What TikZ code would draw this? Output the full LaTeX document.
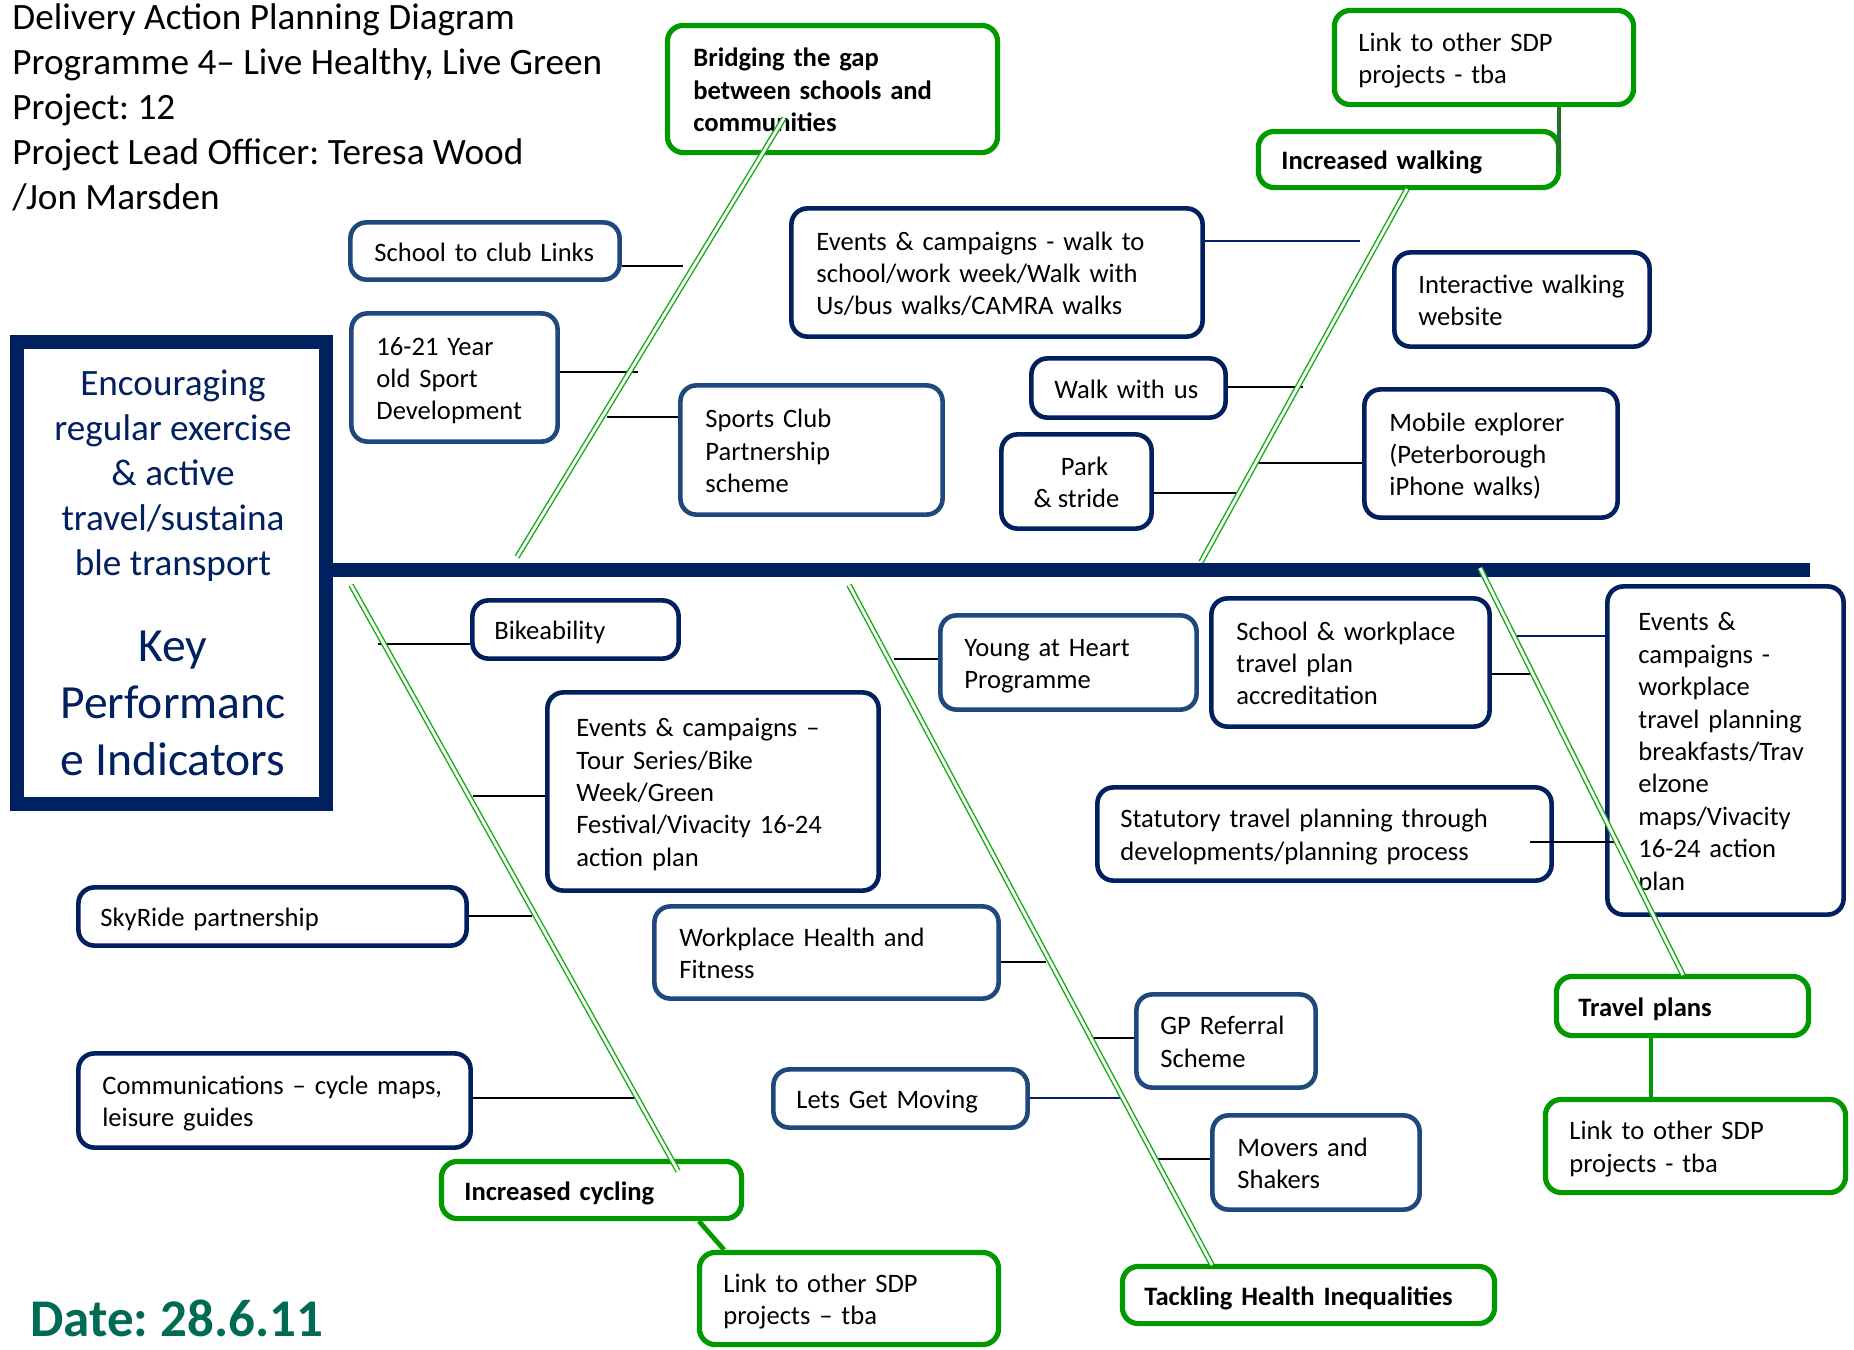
\documentclass[tikz,border=0pt]{standalone}
\usepackage{fontspec}
\setmainfont{Carlito}
\definecolor{cNavy}{RGB}{0,32,96}
\definecolor{cBlue}{RGB}{31,73,125}
\definecolor{cGreen}{RGB}{0,153,0}
\definecolor{cBone}{RGB}{20,170,20}
\definecolor{cLink}{RGB}{40,110,40}
\definecolor{cDate}{RGB}{0,107,84}
\newcommand\mybox[8]{%
  \pgfmathsetmacro\bw{(#5-#3)/2-1.4}%
  \pgfmathsetmacro\bh{(#6-#4)/2-1.4}%
  \pgfmathsetmacro\tw{\bw-2*#7}%
  \node[#1, minimum width=\bw pt, minimum height=\bh pt, inner xsep=#7pt, text width=\tw pt] (#2) at ({(#3+#5)/2},{(#4+#6)/2}) {\raisebox{-1.8pt}[\height][\depth]{\begin{tabular}{@{}l@{}}#8\end{tabular}}};}
\begin{document}
\frenchspacing
\begin{tikzpicture}[x=0.5pt,y=-0.5pt,
  boxbase/.style={rounded corners=8pt, fill=white, align=left, inner ysep=0pt, font=\fontsize{13.3}{16.2}\selectfont},
  nbox/.style={boxbase, draw=cNavy, line width=2.3pt},
  lbox/.style={boxbase, draw=cBlue, line width=2.3pt},
  gbox/.style={boxbase, draw=cGreen, line width=2.6pt},
  gtbox/.style={gbox, font=\fontsize{13.3}{16.2}\selectfont\bfseries},
  bone/.style={draw=cBone, line width=0.7pt, double=white, double distance=1.4pt},
  sub/.style={draw=black, line width=1pt},
  nsub/.style={draw=cNavy, line width=1pt},
  lnk/.style={draw=cGreen, line width=2.4pt},
  ttl/.style={anchor=base west, inner sep=0pt, font=\fontsize{18.6}{22.5}\selectfont},
  spine/.style={draw=cNavy, line width=7pt}]
\useasboundingbox (0,0) rectangle (1854,1350);
\fill[white] (0,0) rectangle (1854,1350);

% title
\node[ttl] (t1) at (12,29) {Delivery Action Planning Diagram};
\node[ttl] (t2) at (12,74) {Programme 4– Live Healthy, Live Green};
\node[ttl] (t3) at (12,119) {Project: 12};
\node[ttl] (t4) at (12,164) {Project Lead Officer: Teresa Wood};
\node[ttl] (t5) at (12,209) {/Jon Marsden};
\node[anchor=base west, inner sep=0pt, text=cDate, font=\fontsize{26.5}{30}\selectfont\bfseries] (date) at (30,1336) {Date: 28.6.11};

% KPI frame
\node[draw=cNavy, line width=7pt, fill=white, minimum width=154.5pt, minimum height=231pt, inner sep=0pt] (kpi) at (171.5,573) {};
\node[text=cNavy, align=center, inner sep=0pt, font=\fontsize{18.6}{22.5}\selectfont] (kpiA) at (173,476) {Encouraging\\regular exercise\\\& active\\travel/sustaina\\ble transport};
\node[text=cNavy, align=center, inner sep=0pt, font=\fontsize{23.8}{28.5}\selectfont] (kpiB) at (173,703) {Key\\Performanc\\e Indicators};

% spine
\coordinate (spE) at (1810,570);
\draw[spine] (kpi.east |- spE) -- (spE);

% boxes
\mybox{gtbox}{bridge}{666}{24}{999}{154}{13}{Bridging the gap\\between schools and\\communities}
\mybox{gbox}{linkT}{1333}{9}{1635}{106}{12}{Link to other SDP\\projects - tba}
\mybox{gtbox}{walk}{1257}{130}{1560}{189}{11.5}{Increased walking}
\mybox{lbox}{sch}{349}{221}{621}{281}{12}{School to club Links}
\mybox{nbox}{evw}{790}{207}{1204}{338}{12.5}{Events \& campaigns - walk to\\school/work week/Walk with\\Us/bus walks/CAMRA walks}
\mybox{nbox}{iw}{1393}{251}{1651}{348}{12}{Interactive walking\\website}
\mybox{lbox}{y16}{350}{312}{559}{443}{12.5}{16-21 Year\\old Sport\\Development}
\mybox{lbox}{scp}{679}{384}{944}{516}{12.5}{Sports Club\\Partnership\\scheme}
\mybox{nbox}{wwu}{1030}{357}{1227}{419}{11.5}{Walk with us}
\node[nbox, minimum width=75.1pt, minimum height=47.1pt, align=center, inner sep=0pt] (park) at (1076.5,481.5) {\raisebox{-1.8pt}[\height][\depth]{\begin{tabular}{@{}c@{}}\hspace*{8pt}Park\\\& stride\end{tabular}}};
\mybox{nbox}{mob}{1363}{388}{1619}{519}{12.5}{Mobile explorer\\(Peterborough\\iPhone walks)}
\mybox{nbox}{bike}{471}{599}{680}{660}{11}{Bikeability}
\mybox{lbox}{yah}{939}{614}{1198}{711}{12}{Young at Heart\\Programme}
\mybox{nbox}{swp}{1210}{597}{1491}{728}{12.5}{School \& workplace\\travel plan\\accreditation}
\mybox{nbox}{evp}{1606}{585}{1845}{916}{15.5}{Events \&\\campaigns -\\workplace\\travel planning\\breakfasts/Trav\\elzone\\maps/Vivacity\\16-24 action\\plan}
\mybox{nbox}{evt}{546}{691}{880}{892}{14.5}{Events \& campaigns –\\Tour Series/Bike\\Week/Green\\Festival/Vivacity 16-24\\action plan}
\mybox{nbox}{stat}{1096}{786}{1553}{882}{11.5}{Statutory travel planning through\\developments/planning process}
\mybox{nbox}{sky}{77}{886}{468}{947}{11}{SkyRide partnership}
\mybox{lbox}{whf}{653}{905}{1000}{1000}{12.5}{Workplace Health and\\Fitness}
\mybox{lbox}{gp}{1135}{993}{1317}{1089}{12}{GP Referral\\Scheme}
\mybox{gtbox}{tp}{1555}{975}{1810}{1037}{11}{Travel plans}
\mybox{nbox}{com}{77}{1052}{472}{1149}{12}{Communications – cycle maps,\\leisure guides}
\mybox{lbox}{lgm}{772}{1068}{1029}{1129}{11.5}{Lets Get Moving}
\mybox{lbox}{mov}{1211}{1114}{1421}{1211}{12.5}{Movers and\\Shakers}
\mybox{gtbox}{cyc}{440}{1160}{743}{1220}{11.5}{Increased cycling}
\mybox{gbox}{linkR}{1544}{1098}{1847}{1194}{12}{Link to other SDP\\projects - tba}
\mybox{gbox}{linkB}{698}{1251}{1000}{1346}{12}{Link to other SDP\\projects – tba}
\mybox{gtbox}{tack}{1121}{1265}{1496}{1325}{11}{Tackling Health Inequalities}

% sub-bone connectors
\coordinate (c1) at (683,266);  \draw[sub] (sch.east |- c1) -- (c1);
\coordinate (c2) at (638,372);  \draw[sub] (y16.east |- c2) -- (c2);
\coordinate (c3) at (607,417);  \draw[sub] (c3) -- (scp.west |- c3);
\coordinate (c4) at (1360,241); \draw[nsub] (evw.east |- c4) -- (c4);
\coordinate (c5) at (1303,387); \draw[sub] (wwu.east |- c5) -- (c5);
\coordinate (c6) at (1241,493); \draw[sub] (park.east |- c6) -- (c6);
\coordinate (c7) at (1253,463); \draw[sub] (c7) -- (mob.west |- c7);
\coordinate (c8) at (378,644);  \draw[sub] (c8) -- (bike.west |- c8);
\coordinate (c9) at (894,659);  \draw[sub] (c9) -- (yah.west |- c9);
\coordinate (c10) at (1531,674); \draw[sub] (swp.east |- c10) -- (c10);
\coordinate (c11) at (1516,636); \draw[nsub] (c11) -- (evp.west |- c11);
\coordinate (c12) at (473,796);  \draw[sub] (c12) -- (evt.west |- c12);
\coordinate (c13a) at (1530,842); \coordinate (c13) at (1620,842); \draw[sub] (c13a) -- (c13);
\coordinate (c14) at (532,916);  \draw[sub] (sky.east |- c14) -- (c14);
\coordinate (c15) at (1046,962); \draw[sub] (whf.east |- c15) -- (c15);
\coordinate (c16) at (1089,1038); \draw[sub] (c16) -- (gp.west |- c16);
\coordinate (c17) at (638,1098); \draw[sub] (com.east |- c17) -- (c17);
\coordinate (c18) at (1121,1098); \draw[nsub] (lgm.east |- c18) -- (c18);
\coordinate (c19) at (1153,1159); \draw[sub] (c19) -- (mov.west |- c19);

% green bones
\coordinate (bA0) at (517,557);  \coordinate (bA1) at (784,118);
\coordinate (bB0) at (1201,562); \coordinate (bB1) at (1407,189);
\coordinate (bC0) at (351,585);  \coordinate (bC1) at (678,1171);
\coordinate (bD0) at (849,585);  \coordinate (bD1) at (1212,1265);
\coordinate (bE0) at (1480,568); \coordinate (bE1) at (1683,975);
\draw[bone] (bA0) -- (bA1);
\draw[bone] (bB0) -- (bB1);
\draw[bone] (bC0) -- (bC1);
\draw[bone] (bD0) -- (bD1);
\draw[bone] (bE0) -- (bE1);

% links to other SDP projects
\coordinate (lkT) at (1559,166);
\draw[draw=cLink, line width=1.6pt] (lkT |- linkT.south) -- (lkT);
\coordinate (lkR) at (1651,1037);
\draw[lnk] (lkR |- tp.south) -- (lkR |- linkR.north);
\coordinate (lkB1) at (699,1220); \coordinate (lkB2) at (724,1251);
\draw[lnk] (cyc.south -| lkB1) -- (linkB.north -| lkB2);
\end{tikzpicture}
\end{document}
